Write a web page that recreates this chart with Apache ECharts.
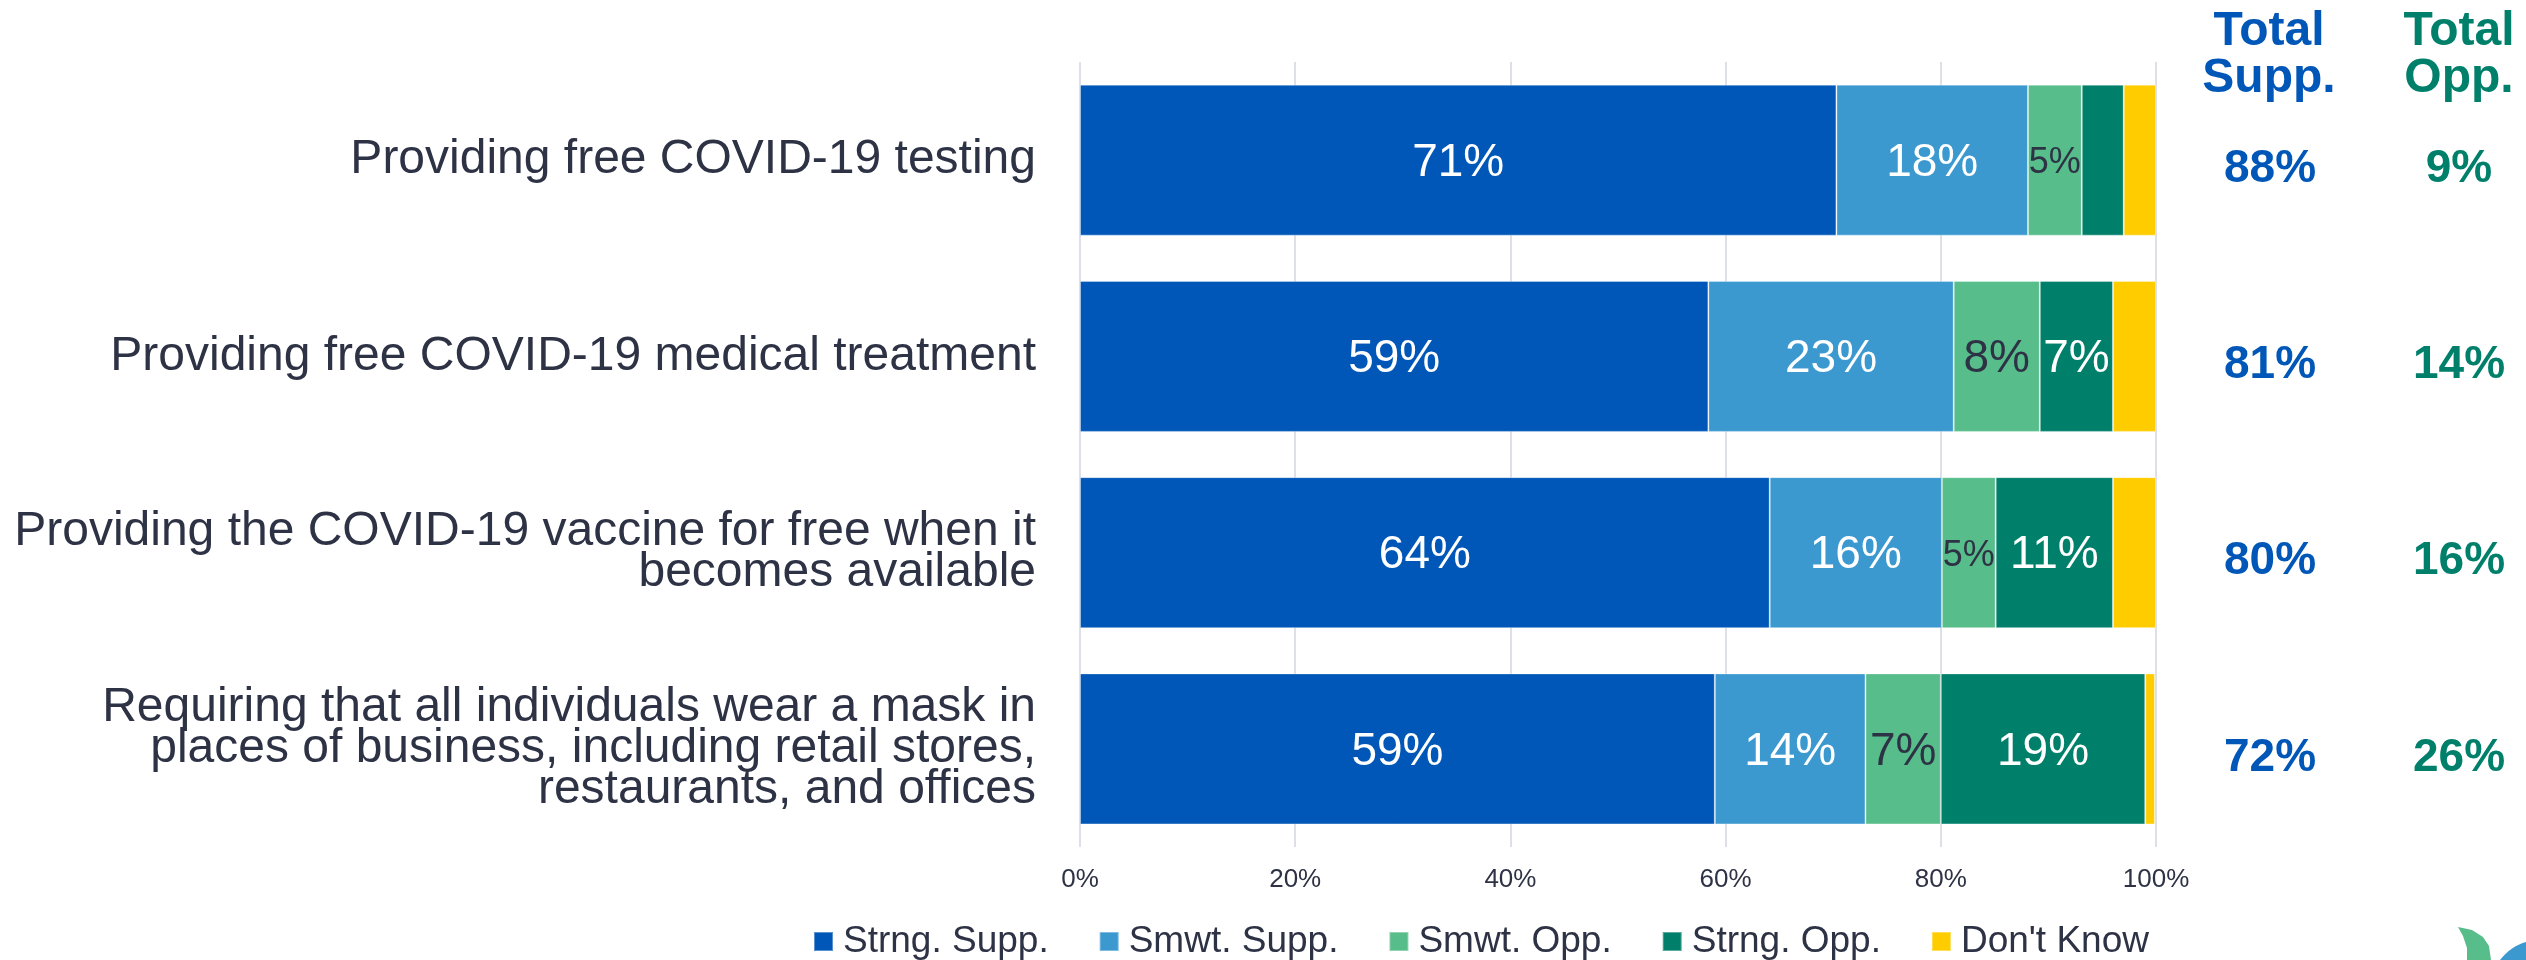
<!DOCTYPE html>
<html><head><meta charset="utf-8">
<script src="https://cdn.jsdelivr.net/npm/echarts@6/dist/echarts.min.js"></script>
<style>html,body{margin:0;padding:0;background:#fff}#c{width:2526px;height:960px}</style>
</head><body><div id="c"></div>
<script>
const categories = [
  'Providing free COVID-19 testing',
  'Providing free COVID-19 medical treatment',
  'Providing the COVID-19 vaccine for free when it\nbecomes available',
  'Requiring that all individuals wear a mask in\nplaces of business, including retail stores,\nrestaurants, and offices'
];
const seriesNames = ['Strng. Supp.', 'Smwt. Supp.', 'Smwt. Opp.', 'Strng. Opp.', "Don't Know"];
const strngSupp = [70.3, 58.4, 64.1, 59.0];
const smwtSupp  = [17.8, 22.8, 16.0, 14.0];
const smwtOpp   = [5.0, 8.0, 5.0, 7.0];
const strngOpp  = [3.9, 6.8, 10.9, 19.0];
const dontKnow  = [3.0, 4.0, 4.0, 0.9];
const strngSuppLabels = ['71%', '59%', '64%', '59%'];
const smwtSuppLabels  = ['18%', '23%', '16%', '14%'];
const smwtOppLabels   = ['5%', '8%', '5%', '7%'];
const strngOppLabels  = ['', '7%', '11%', '19%'];
const dontKnowLabels  = ['', '', '', ''];
const totalSupp = ['88%', '81%', '80%', '72%'];
const totalOpp  = ['9%', '14%', '16%', '26%'];
const xTicks = [0, 20, 40, 60, 80, 100];

const FONT = '"Liberation Sans", Arial, Helvetica, sans-serif';
const TEXT = '#2e3245';
const colors = ['#0057b8', '#3b99d0', '#57bd8a', '#00806b', '#ffcc00'];
const labelColors = ['#ffffff', '#ffffff', TEXT, '#ffffff', TEXT];
const values = [strngSupp, smwtSupp, smwtOpp, strngOpp, dontKnow];
const labels = [strngSuppLabels, smwtSuppLabels, smwtOppLabels, strngOppLabels, dontKnowLabels];

const series = seriesNames.map((name, si) => ({
  name, type: 'bar', stack: 'all', barWidth: 151,
  itemStyle: { color: colors[si], borderColor: 'rgba(255,255,255,0.35)', borderWidth: 1 },
  data: values[si].map((v, i) => ({
    value: v,
    label: {
      show: labels[si][i] !== '',
      position: 'inside',
      offset: [0, 3],
      formatter: labels[si][i],
      color: labelColors[si],
      fontFamily: FONT,
      fontSize: v < 6 ? 36 : 46
    }
  }))
}));

const chart = echarts.init(document.getElementById('c'));
chart.setOption({
  backgroundColor: '#ffffff',
  animation: false,
  textStyle: { fontFamily: FONT },
  grid: { left: 1080, right: 370, top: 62, bottom: 113, containLabel: false, outerBoundsMode: 'none' },
  legend: {
    left: 813, top: 923, padding: 0,
    icon: 'rect', itemWidth: 19, itemHeight: 19, itemGap: 50,
    textStyle: { fontFamily: FONT, fontSize: 37, color: TEXT, padding: [0, 0, 0, 5] },
    data: seriesNames
  },
  xAxis: {
    type: 'value', min: xTicks[0], max: xTicks[xTicks.length - 1], interval: xTicks[1] - xTicks[0],
    axisLine: { show: false }, axisTick: { show: false },
    splitLine: { show: true, lineStyle: { color: '#dde0e7', width: 2 } },
    axisLabel: { formatter: v => v + '%', fontFamily: FONT, fontSize: 26, color: TEXT, margin: 20 }
  },
  yAxis: [
    {
      type: 'category', data: categories, inverse: true,
      axisLine: { show: false }, axisTick: { show: false },
      axisLabel: { fontFamily: FONT, fontSize: 48, lineHeight: 41, color: TEXT, margin: 44 }
    },
    {
      type: 'category', data: categories, inverse: true, position: 'right',
      axisLine: { show: false }, axisTick: { show: false },
      axisLabel: {
        margin: 14,
        formatter: (val, idx) => '{s|' + totalSupp[idx] + '}{o|' + totalOpp[idx] + '}',
        rich: {
          s: { fontFamily: FONT, fontWeight: 'bold', fontSize: 46, color: '#0057b8', width: 200, align: 'center', padding: [18, 0, 0, 0] },
          o: { fontFamily: FONT, fontWeight: 'bold', fontSize: 46, color: '#00806b', width: 178, align: 'center', padding: [18, 0, 0, 0] }
        }
      }
    }
  ],
  graphic: [
    { type: 'text', x: 2269, y: 8, style: { text: 'Total\nSupp.', textAlign: 'center', textVerticalAlign: 'top', font: 'bold 48px ' + FONT, lineHeight: 47, fill: '#0057b8' } },
    { type: 'text', x: 2459, y: 8, style: { text: 'Total\nOpp.', textAlign: 'center', textVerticalAlign: 'top', font: 'bold 48px ' + FONT, lineHeight: 47, fill: '#00806b' } },
    { type: 'polygon', shape: { points: [[2458, 927], [2472, 930], [2483, 937], [2489, 946], [2491, 960], [2467, 960], [2467, 948], [2463, 936]] }, style: { fill: '#57bd8a' } },
    { type: 'circle', shape: { cx: 2540, cy: 990, r: 50 }, style: { fill: '#3b99d0' } }
  ],
  series
});
</script></body></html>
